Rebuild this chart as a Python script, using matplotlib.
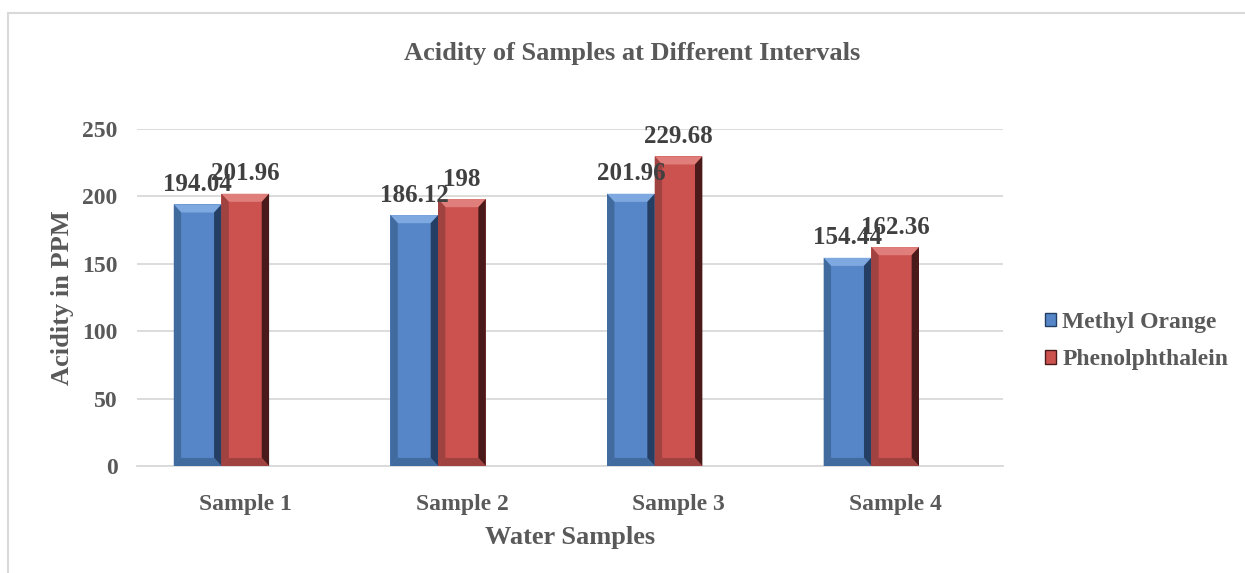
import matplotlib.pyplot as plt
from matplotlib.patches import Polygon, Rectangle, Patch

# Dados do gráfico
amostras = ["Sample 1", "Sample 2", "Sample 3", "Sample 4"]
metil_laranja = [194.04, 186.12, 201.96, 154.44]
fenolftaleina = [201.96, 198, 229.68, 162.36]
rotulos_y = [0, 50, 100, 150, 200, 250]

plt.rcParams['font.family'] = ['Liberation Serif', 'DejaVu Serif']
plt.rcParams['font.weight'] = 'bold'
cinza = '#595959'

fig = plt.figure(figsize=(12.45, 5.73), dpi=100)
ax = fig.add_axes([0.110, 0.1867, 0.696, 0.5882])

largura = 0.22
bx, by = 0.034, 6.0  # tamanho do chanfro


def barra_3d(ax, x0, h, cor, clara, escura, lateral):
    x1 = x0 + largura
    ax.add_patch(Rectangle((x0, 0), largura, h, facecolor=cor, edgecolor='none', zorder=3))
    # topo claro
    ax.add_patch(Polygon([(x0, h), (x1, h), (x1 - bx, h - by), (x0 + bx, h - by)],
                         facecolor=clara, edgecolor='none', zorder=4))
    # lado esquerdo
    ax.add_patch(Polygon([(x0, 0), (x0, h), (x0 + bx, h - by), (x0 + bx, by)],
                         facecolor=lateral, edgecolor='none', zorder=4))
    # lado direito escuro
    ax.add_patch(Polygon([(x1, 0), (x1, h), (x1 - bx, h - by), (x1 - bx, by)],
                         facecolor=escura, edgecolor='none', zorder=4))
    # base
    ax.add_patch(Polygon([(x0, 0), (x1, 0), (x1 - bx, by), (x0 + bx, by)],
                         facecolor=lateral, edgecolor='none', zorder=4))


for i in range(len(amostras)):
    xa = i - 0.33
    xb = i - 0.11
    barra_3d(ax, xa, metil_laranja[i], '#5686C8', '#7EA8E0', '#243F63', '#416A9E')
    barra_3d(ax, xb, fenolftaleina[i], '#CC5250', '#E07E7C', '#4A1A1A', '#A04240')
    ax.annotate(f"{metil_laranja[i]:g}", (xa + largura / 2, metil_laranja[i]),
                xytext=(0, 6), textcoords='offset points', ha='center', va='bottom',
                fontsize=18, fontweight='bold', color='#404040', zorder=5)
    ax.annotate(f"{fenolftaleina[i]:g}", (xb + largura / 2, fenolftaleina[i]),
                xytext=(0, 6), textcoords='offset points', ha='center', va='bottom',
                fontsize=18, fontweight='bold', color='#404040', zorder=5)

ax.set_xlim(-0.5, len(amostras) - 0.5)
ax.set_ylim(0, 250)
ax.set_yticks(rotulos_y)
ax.set_xticks(range(len(amostras)))
ax.set_xticklabels(amostras)
ax.grid(axis='y', color='#D9D9D9', linewidth=1.3, zorder=0)
for s in ['top', 'right', 'left']:
    ax.spines[s].set_visible(False)
ax.spines['bottom'].set_color('#D9D9D9')
ax.spines['bottom'].set_linewidth(1.3)
ax.tick_params(axis='both', length=0, labelsize=17, labelcolor=cinza)
ax.tick_params(axis='x', pad=20)
ax.tick_params(axis='y', pad=14)

ax.set_ylabel("Acidity in PPM", fontsize=19, fontweight='bold', color=cinza, labelpad=6)
ax.set_xlabel("Water Samples", fontsize=19, fontweight='bold', color=cinza, labelpad=8)
fig.text(0.508, 0.907, "Acidity of Samples at Different Intervals", ha='center', va='center',
         fontsize=19, fontweight='bold', color=cinza)

# Legenda
handles = [Patch(facecolor='#5686C8', edgecolor='#243F63', label='Methyl Orange'),
           Patch(facecolor='#CC5250', edgecolor='#4A1A1A', label='Phenolphthalein')]
leg = fig.legend(handles=handles, loc='center left', bbox_to_anchor=(0.822, 0.405),
                 frameon=False, fontsize=17, handlelength=0.5, handleheight=0.5,
                 handletextpad=0.25, labelspacing=0.7, labelcolor=cinza)

# Borda do gráfico
fig.patches.append(Rectangle((8 / 1245, -0.1), 1.2, 1.1 - 13 / 573, transform=fig.transFigure,
                             fill=False, edgecolor='#D9D9D9', linewidth=1.5))

plt.savefig('out.png', dpi=100)
